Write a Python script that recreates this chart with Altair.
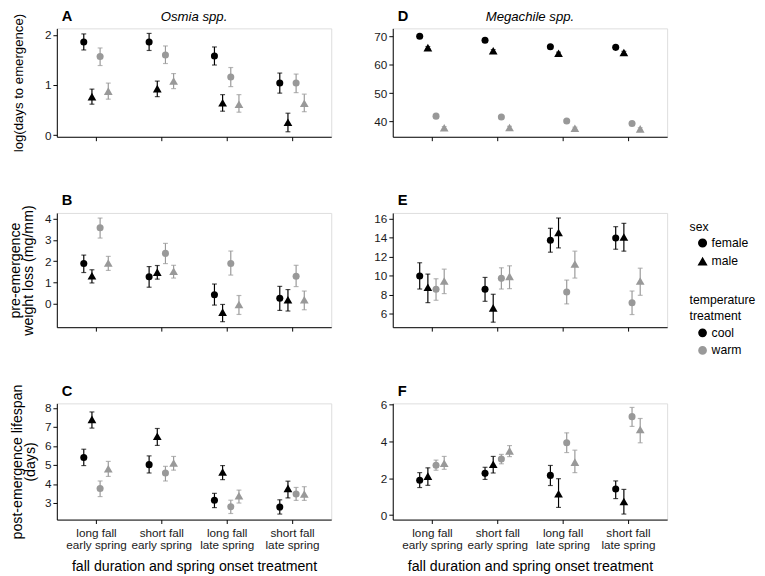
import json
import altair as alt
import pandas as pd

# ---------------- data ----------------
categories = [["long fall", "early spring"], ["short fall", "early spring"],
              ["long fall", "late spring"], ["short fall", "late spring"]]
group_sex = ["female", "male", "female", "male"]
group_temp = ["cool", "cool", "warm", "warm"]

# rows = treatments, columns = (cool female, cool male, warm female, warm male)
A_mean = [[1.86, 0.77, 1.57, 0.88], [1.86, 0.93, 1.60, 1.08], [1.58, 0.65, 1.16, 0.62], [1.04, 0.26, 1.04, 0.64]]
A_lo = [[1.70, 0.62, 1.39, 0.72], [1.69, 0.77, 1.43, 0.93], [1.40, 0.48, 0.97, 0.46], [0.84, 0.07, 0.85, 0.47]]
A_hi = [[2.02, 0.92, 1.74, 1.04], [2.03, 1.08, 1.78, 1.23], [1.76, 0.81, 1.35, 0.81], [1.24, 0.44, 1.22, 0.82]]

D_mean = [[70.1, 66.1, 41.9, 37.8], [68.7, 65.0, 41.6, 37.9], [66.4, 64.1, 40.2, 37.6], [66.2, 64.4, 39.3, 37.4]]
D_lo = [[69.7, 65.7, 41.5, 37.4], [68.3, 64.6, 41.2, 37.5], [66.0, 63.7, 39.8, 37.2], [65.8, 64.0, 38.9, 37.0]]
D_hi = [[70.5, 66.5, 42.3, 38.2], [69.1, 65.4, 42.0, 38.3], [66.8, 64.5, 40.6, 38.0], [66.6, 64.8, 39.7, 37.8]]

B_mean = [[1.89, 1.32, 3.57, 1.92], [1.27, 1.49, 2.37, 1.53], [0.43, -0.39, 1.89, -0.03], [0.26, 0.19, 1.30, 0.19]]
B_lo = [[1.47, 0.98, 3.09, 1.57], [0.78, 1.16, 1.89, 1.21], [-0.06, -0.84, 1.35, -0.50], [-0.31, -0.34, 0.81, -0.28]]
B_hi = [[2.29, 1.60, 4.03, 2.23], [1.75, 1.80, 2.84, 1.81], [0.93, -0.03, 2.48, 0.39], [0.82, 0.67, 1.81, 0.60]]

E_mean = [[9.97, 8.79, 8.58, 9.45], [8.58, 6.63, 9.73, 9.94], [13.74, 14.54, 8.30, 11.23], [13.98, 14.08, 7.18, 9.45]]
E_lo = [[8.61, 7.18, 7.43, 8.13], [7.32, 5.13, 8.61, 8.65], [12.48, 12.93, 7.05, 9.76], [12.79, 12.59, 5.93, 7.95]]
E_hi = [[11.37, 10.18, 9.69, 10.70], [9.83, 8.06, 10.84, 11.05], [14.99, 16.07, 9.55, 12.59], [15.16, 15.51, 8.40, 10.80]]

C_mean = [[5.40, 7.40, 3.77, 4.80], [5.02, 6.51, 4.58, 5.11], [3.15, 4.63, 2.81, 3.38], [2.79, 3.77, 3.48, 3.48]]
C_lo = [[4.97, 6.94, 3.34, 4.40], [4.58, 6.03, 4.16, 4.73], [2.76, 4.23, 2.45, 3.00], [2.42, 3.27, 3.14, 3.14]]
C_hi = [[5.83, 7.79, 4.16, 5.19], [5.48, 6.92, 4.93, 5.45], [3.51, 4.97, 3.15, 3.68], [3.17, 4.15, 3.82, 3.86]]

F_mean = [[1.90, 2.12, 2.71, 2.82], [2.27, 2.77, 3.05, 3.49], [2.16, 1.16, 3.93, 2.88], [1.42, 0.74, 5.35, 4.65]]
F_lo = [[1.50, 1.62, 2.44, 2.49], [1.94, 2.29, 2.79, 3.18], [1.61, 0.42, 3.40, 2.31], [0.90, 0.06, 4.82, 3.93]]
F_hi = [[2.31, 2.57, 2.99, 3.19], [2.60, 3.19, 3.30, 3.78], [2.70, 1.98, 4.47, 3.53], [1.86, 1.40, 5.85, 5.25]]

FONT = "Liberation Sans"
label_expr = json.dumps(categories) + "[datum.value - 1]"


def make_df(mean, lo, hi):
    rows = []
    for ci in range(len(categories)):
        for gi in range(4):
            rows.append({"ci": ci + 1, "gi": gi, "sex": group_sex[gi], "temp": group_temp[gi],
                         "mean": mean[ci][gi], "lo": lo[ci][gi], "hi": hi[ci][gi]})
    return pd.DataFrame(rows)


def panel(letter, species, mean, lo, hi, domain, ticks, height,
          ytitle=None, ytitle_size=14.5, ytitle_pad=10, ytitle_lh=14, bottom=False, legend=False):
    df = make_df(mean, lo, hi)
    base = alt.Chart(df).transform_calculate(pos="datum.ci + (datum.gi - 1.5) * 0.125")

    if bottom:
        xaxis = alt.Axis(values=[1, 2, 3, 4], labelExpr=label_expr, title="fall duration and spring onset treatment",
                         labelLineHeight=12.5, labelPadding=4, titlePadding=10, titleFontSize=14.5)
    else:
        xaxis = alt.Axis(values=[1, 2, 3, 4], labels=False, title=None)
    x = alt.X("pos:Q", scale=alt.Scale(domain=[0.4, 4.6], nice=False, zero=False), axis=xaxis)

    if ytitle is not None:
        yaxis = alt.Axis(values=ticks, title=ytitle, titleFontSize=ytitle_size, titlePadding=ytitle_pad,
                         titleLineHeight=ytitle_lh)
    else:
        yaxis = alt.Axis(values=ticks, title=None)
    yscale = alt.Scale(domain=domain, nice=False, zero=False)

    if legend:
        color_legend = alt.Legend(title=["temperature", "treatment"], orient="none", legendX=304, legendY=83,
                                  symbolType="circle", symbolSize=55, titleLineHeight=17, rowPadding=4,
                                  titlePadding=4, symbolOffset=7, labelOffset=3)
        shape_legend = alt.Legend(title="sex", orient="none", legendX=304, legendY=8, symbolSize=60,
                                  symbolFillColor="black", symbolStrokeColor="black", rowPadding=4,
                                  titlePadding=4, symbolOffset=7, labelOffset=3)
    else:
        color_legend = None
        shape_legend = None

    color = alt.Color("temp:N", scale=alt.Scale(domain=["cool", "warm"], range=["#000000", "#999999"]),
                      legend=color_legend)
    shape = alt.Shape("sex:N", scale=alt.Scale(domain=["female", "male"], range=["circle", "triangle-up"]),
                      legend=shape_legend)
    size = alt.Size("sex:N", scale=alt.Scale(domain=["female", "male"], range=[52, 80]), legend=None)

    points = base.mark_point(filled=True, opacity=1, color="black").encode(
        x=x, y=alt.Y("mean:Q", scale=yscale, axis=yaxis), color=color, shape=shape, size=size)
    rules = base.mark_rule(strokeWidth=1.2).encode(
        x=x, y=alt.Y("lo:Q", scale=yscale, axis=yaxis), y2="hi:Q", color=color)
    cap_lo = base.mark_tick(orient="horizontal", size=5, thickness=1.2).encode(
        x=x, y=alt.Y("lo:Q", scale=yscale, axis=yaxis), color=color)
    cap_hi = base.mark_tick(orient="horizontal", size=5, thickness=1.2).encode(
        x=x, y=alt.Y("hi:Q", scale=yscale, axis=yaxis), color=color)

    letter_txt = alt.Chart(pd.DataFrame({"t": [letter]})).mark_text(
        font=FONT, fontSize=15, fontWeight="bold", align="left", baseline="alphabetic", color="black"
    ).encode(text="t:N", x=alt.value(5), y=alt.value(-8))

    layers = [points, rules, cap_lo, cap_hi, letter_txt]
    if species:
        sp_txt = alt.Chart(pd.DataFrame({"t": [species]})).mark_text(
            font=FONT, fontSize=13.5, fontStyle="italic", align="center", baseline="middle", color="black"
        ).encode(text="t:N", x=alt.value(140.5), y=alt.value(-12))
        layers.append(sp_txt)

    return alt.layer(*layers).properties(width=281, height=height)


pA = panel("A", "Osmia spp.", A_mean, A_lo, A_hi, [-0.03, 2.13], [0, 1, 2], 111,
           ytitle="log(days to emergence)", ytitle_size=13.5, ytitle_pad=19)
pD = panel("D", "Megachile spp.", D_mean, D_lo, D_hi, [34.6, 72.9], [40, 50, 60, 70], 111)
pB = panel("B", None, B_mean, B_lo, B_hi, [-1.1, 4.27], [0, 1, 2, 3, 4], 117,
           ytitle=["pre-emergence", "weight loss (mg/mm)"], ytitle_pad=9, ytitle_lh=14)
pE = panel("E", None, E_mean, E_lo, E_hi, [4.6, 16.6], [6, 8, 10, 12, 14, 16], 117, legend=True)
pC = panel("C", None, C_mean, C_lo, C_hi, [2.13, 8.24], [3, 4, 5, 6, 7, 8], 119,
           ytitle=["post-emergence lifespan", "(days)"], ytitle_pad=7, bottom=True)
pF = panel("F", None, F_mean, F_lo, F_hi, [-0.24, 6.07], [0, 2, 4, 6], 119, bottom=True)

chart = alt.concat(pA, pD, pB, pE, pC, pF, columns=2, spacing={"row": 78, "column": 63},
                   bounds="flush", align="each").resolve_scale(
    x="independent", y="independent").resolve_axis(x="independent", y="independent").resolve_legend(
    color="independent", shape="independent").properties(
    padding={"left": -2, "top": -7, "right": 0, "bottom": 0}).configure_view(
    strokeWidth=0).configure(font=FONT).configure_axis(
    labelFont=FONT, titleFont=FONT, labelFontSize=12, labelColor="#1a1a1a", titleColor="black",
    titleFontWeight="normal", domainColor="black", tickColor="black", domainWidth=1, tickWidth=1,
    tickSize=4, labelPadding=2, grid=False).configure_legend(
    labelFont=FONT, titleFont=FONT, labelFontSize=12.5, titleFontSize=12.5, titleFontWeight="normal",
    labelColor="black", titleColor="black")

chart.save("out.html", embed_options={"renderer": "svg", "actions": False})
